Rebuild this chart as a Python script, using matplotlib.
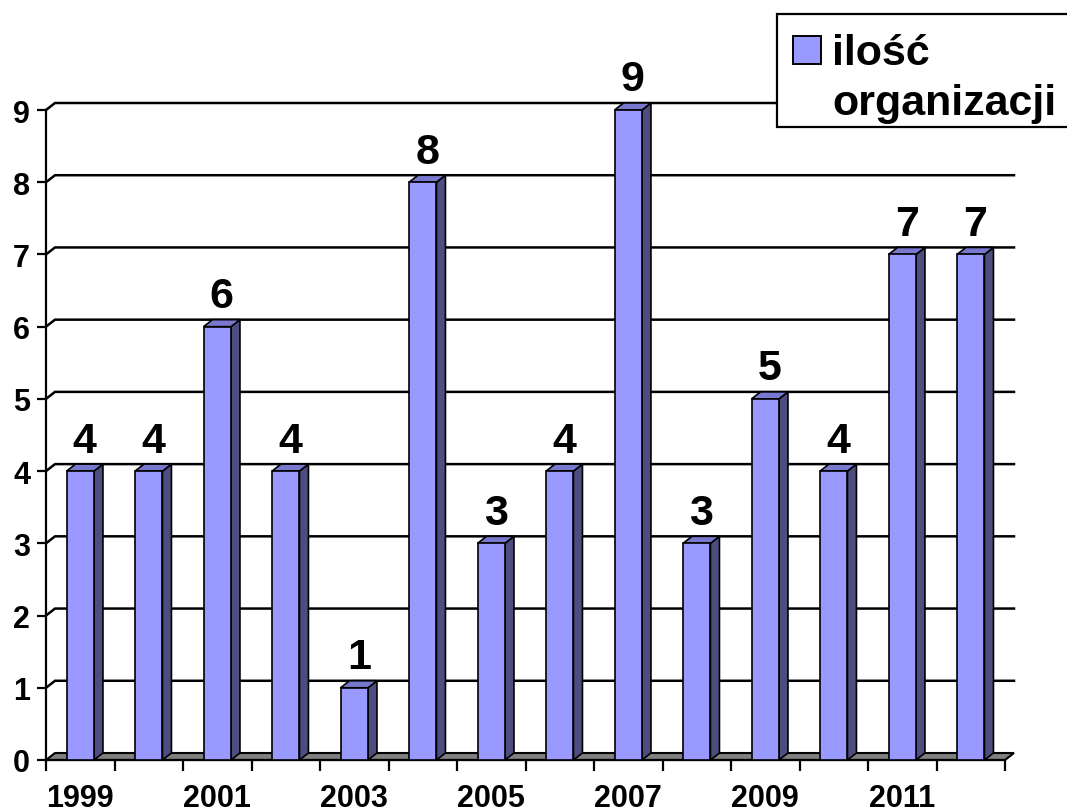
import numpy as np
import matplotlib.pyplot as plt
from matplotlib.patches import Polygon, Rectangle

years = [1999, 2000, 2001, 2002, 2003, 2004, 2005, 2006, 2007, 2008, 2009, 2010, 2011, 2012]
counts = [4, 4, 6, 4, 1, 8, 3, 4, 9, 3, 5, 4, 7, 7]
series_name = 'ilość\norganizacji'
y_ticks = [0, 1, 2, 3, 4, 5, 6, 7, 8, 9]

front_col = '#9999FF'
side_col = '#4D4D80'
top_col = '#7878CF'
floor_col = '#808080'

plt.rcParams['font.family'] = ['Liberation Sans', 'DejaVu Sans']
plt.rcParams['font.weight'] = 'bold'

fig = plt.figure(figsize=(10.67, 8.12), dpi=100)
ax = fig.add_axes([46 / 1067, 51 / 812, 959 / 1067, 650 / 812])

n = len(years)
dx = 9 / 68.5   # depth offset in category units
dy = 7 / 72.2   # depth offset in value units
ymax = max(y_ticks)

ax.set_xlim(0, n)
ax.set_ylim(0, ymax)

# back wall gridlines with the 3d kink at the left
for v in y_ticks[1:]:
    ax.plot([0, dx, n + dx], [v, v + dy, v + dy], color='black', lw=1.8,
            clip_on=False, zorder=1, solid_joinstyle='miter')

# floor
floor = Polygon([(0, 0), (n, 0), (n + dx, dy), (dx, dy)], closed=True,
                facecolor=floor_col, edgecolor='black', lw=1.5, clip_on=False, zorder=1.5)
ax.add_patch(floor)

# 3d-looking bars
for i, v in enumerate(counts):
    x0, x1 = i + 0.3, i + 0.7
    side = Polygon([(x1, 0), (x1 + dx, dy), (x1 + dx, v + dy), (x1, v)], closed=True,
                   facecolor=side_col, edgecolor='black', lw=1.2, clip_on=False, zorder=3)
    top = Polygon([(x0, v), (x1, v), (x1 + dx, v + dy), (x0 + dx, v + dy)], closed=True,
                  facecolor=top_col, edgecolor='black', lw=1.2, clip_on=False, zorder=3)
    front = Rectangle((x0, 0), x1 - x0, v, facecolor=front_col, edgecolor='black',
                      lw=1.2, clip_on=False, zorder=3.2)
    for p in (side, top, front):
        ax.add_patch(p)
    ax.annotate(str(v), (i + 0.5 + dx / 2, v + dy), xytext=(0, 9),
                textcoords='offset points', ha='center', va='baseline',
                fontsize=31, fontweight='bold', annotation_clip=False, zorder=4)

# axes
for s in ('top', 'right'):
    ax.spines[s].set_visible(False)
ax.spines['left'].set_linewidth(1.6)
ax.spines['bottom'].set_linewidth(1.6)
ax.spines['left'].set_zorder(2)
ax.spines['bottom'].set_zorder(2)

ax.set_yticks(y_ticks)
ax.set_yticklabels([str(t) for t in y_ticks])
ax.tick_params(axis='y', length=6.5, width=1.6, pad=5, labelsize=22)

ax.set_xticks(np.arange(n + 1))
ax.set_xticklabels([])
ax.set_xticks(np.arange(0, n, 2) + 0.5, minor=True)
ax.set_xticklabels([str(y) for y in years[::2]], minor=True)
ax.tick_params(axis='x', which='major', length=8, width=1.6, direction='out')
ax.tick_params(axis='x', which='minor', length=0, pad=16.5, labelsize=22)

# legend box drawn by hand (handle aligned to the first line)
fig.add_artist(Rectangle((777 / 1067, 1 - 128 / 812), 320 / 1067, 113 / 812,
                         transform=fig.transFigure, facecolor='white',
                         edgecolor='black', lw=1.6, zorder=10))
fig.add_artist(Rectangle((793 / 1067, 1 - 65 / 812), 28 / 1067, 28 / 812,
                         transform=fig.transFigure, facecolor=front_col,
                         edgecolor='black', lw=1.4, zorder=11))
for k, line in enumerate(series_name.split('\n')):
    fig.text(832 / 1067, 1 - (65 + 50 * k) / 812, line, ha='left', va='baseline',
             fontsize=31, fontweight='bold', zorder=12)

fig.savefig('out.png', dpi=100)
